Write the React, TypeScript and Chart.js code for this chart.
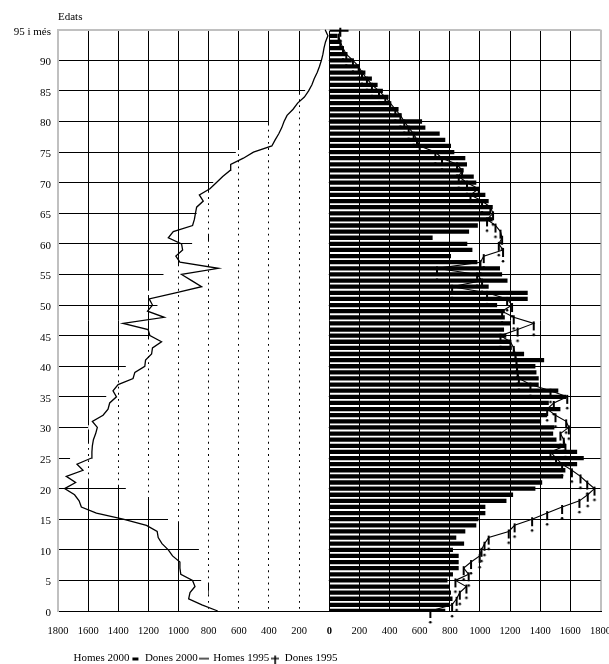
import { useEffect, useRef } from 'react';
import { Chart, registerables } from 'chart.js';

Chart.register(...registerables);

const FONT = "'Liberation Serif', 'Times New Roman', Times, serif";

// Age categories (0 .. 95 i més)
const ageLabels = [
  '0', '1', '2', '3', '4', '5', '6', '7', '8', '9',
  '10', '11', '12', '13', '14', '15', '16', '17', '18', '19',
  '20', '21', '22', '23', '24', '25', '26', '27', '28', '29',
  '30', '31', '32', '33', '34', '35', '36', '37', '38', '39',
  '40', '41', '42', '43', '44', '45', '46', '47', '48', '49',
  '50', '51', '52', '53', '54', '55', '56', '57', '58', '59',
  '60', '61', '62', '63', '64', '65', '66', '67', '68', '69',
  '70', '71', '72', '73', '74', '75', '76', '77', '78', '79',
  '80', '81', '82', '83', '84', '85', '86', '87', '88', '89',
  '90', '91', '92', '93', '94', '95 i més',
];

// Homes 2000 (white bars, left side)
const homes2000 = [
  810, 830, 820, 800, 790, 850, 870, 940, 925, 910,
  865, 990, 990, 995, 990, 1070, 1110, 1135, 1145, 1215,
  1350, 1540, 1640, 1655, 1685, 1720, 1685, 1730, 1590, 1585,
  1600, 1565, 1565, 1555, 1540, 1480, 1520, 1490, 1460, 1450,
  1350, 1390, 1380, 1290, 1280, 1190, 1185, 1165, 1160, 1100,
  1140, 1185, 1340, 1075, 1180, 1100, 1160, 990, 820, 890,
  910, 710, 950, 940, 905, 880, 960, 930, 840, 790,
  770, 760, 720, 700, 660, 620, 590, 545, 520, 455,
  400, 300, 280, 255, 225, 160, 170, 145, 120, 100,
  50, 55, 45, 30, 25, 60,
];

// Dones 2000 (black bars, right side)
const dones2000 = [
  770, 800, 818, 808, 800, 785, 821, 859, 859, 859,
  821, 895, 843, 903, 976, 990, 1036, 1036, 1176, 1220,
  1368, 1413, 1552, 1567, 1645, 1689, 1645, 1567, 1508, 1486,
  1494, 1406, 1446, 1534, 1457, 1572, 1520, 1390, 1390, 1375,
  1368, 1426, 1293, 1211, 1200, 1175, 1160, 1200, 1165, 1165,
  1114, 1317, 1317, 1058, 1183, 1147, 1133, 983, 808, 950,
  916, 686, 928, 986, 1084, 1070, 1085, 1058, 1036, 992,
  976, 959, 892, 914, 903, 830, 808, 770, 733, 638,
  616, 480, 460, 405, 394, 356, 321, 283, 240, 200,
  150, 120, 90, 80, 55, 128,
];

// Homes 1995 (line, left side)
const homes1995 = [
  740, 845, 933, 924, 891, 907, 985, 991, 991, 1040,
  1068, 1110, 1135, 1142, 1213, 1368, 1545, 1645, 1660, 1690,
  1756, 1683, 1745, 1634, 1674, 1578, 1575, 1572, 1565, 1550,
  1539, 1572, 1501, 1468, 1457, 1412, 1435, 1401, 1302, 1290,
  1224, 1219, 1179, 1173, 1113, 1190, 1202, 1368, 1095, 1206,
  1173, 1195, 1020, 847, 913, 980, 736, 991, 1018, 973,
  980, 1068, 1035, 907, 895, 888, 880, 836, 862, 792,
  750, 707, 658, 654, 570, 503, 381, 359, 335, 315,
  300, 280, 240, 210, 165, 137, 115, 100, 80, 65,
  52, 42, 35, 25, 9, 27,
];

// Dones 1995 (line with markers, right side)
const dones1995 = [
  671, 815, 845, 866, 910, 837, 925, 892, 941, 998,
  1010, 1030, 1058, 1191, 1230, 1346, 1446, 1545, 1660, 1715,
  1760, 1712, 1667, 1610, 1545, 1505, 1468, 1567, 1556, 1534,
  1590, 1572, 1501, 1446, 1490, 1579, 1468, 1335, 1258, 1250,
  1246, 1242, 1235, 1224, 1202, 1136, 1250, 1357, 1224, 1147,
  1213, 1180, 1047, 815, 1014, 981, 715, 1003, 1025, 1153,
  1125, 1147, 1136, 1103, 1047, 1087, 1069, 1014, 937, 992,
  914, 859, 881, 848, 748, 704, 600, 582, 560, 527,
  498, 472, 438, 405, 372, 330, 283, 250, 217, 195,
  157, 113, 91, 73, 62, 73,
];

const seriesNames = ['Homes 2000', 'Dones 2000', 'Homes 1995', 'Dones 1995'];

function makeCanvas(w: number, h: number, draw: (g: CanvasRenderingContext2D) => void) {
  const c = document.createElement('canvas');
  c.width = w;
  c.height = h;
  const g = c.getContext('2d');
  if (g) {
    g.fillStyle = '#000';
    g.strokeStyle = '#000';
    draw(g);
  }
  return c;
}

export default function App() {
  const ref = useRef<HTMLCanvasElement>(null);

  useEffect(() => {
    const canvas = ref.current;
    if (!canvas) return;

    // marker "!" hanging below the data point
    const marker = makeCanvas(6, 30, (g) => {
      g.fillRect(2, 13, 2, 9);
      g.beginPath();
      g.arc(3, 26.3, 1.3, 0, Math.PI * 2);
      g.fill();
    });
    const legBlank = makeCanvas(8, 8, () => {});
    const legRect = makeCanvas(8, 8, (g) => {
      g.fillRect(1, 3, 6, 3);
    });
    const legLine = makeCanvas(10, 4, (g) => {
      g.fillRect(0, 1.5, 10, 1.3);
    });
    const legCross = makeCanvas(8, 18, (g) => {
      g.fillRect(0, 8.4, 8, 1.3);
      g.fillRect(3.2, 6, 1.6, 10);
    });
    const legendStyles = [legBlank, legRect, legLine, legCross];

    const chart = new Chart(canvas, {
      type: 'bar',
      data: {
        labels: ageLabels,
        datasets: [
          {
            type: 'bar',
            label: seriesNames[0],
            data: homes2000.map((v) => -v),
            backgroundColor: '#ffffff',
            borderWidth: 0,
            grouped: false,
            barPercentage: 0.7,
            categoryPercentage: 1,
            order: 3,
          },
          {
            type: 'bar',
            label: seriesNames[1],
            data: dones2000,
            backgroundColor: '#000000',
            borderWidth: 0,
            grouped: false,
            barPercentage: 0.7,
            categoryPercentage: 1,
            order: 2,
          },
          {
            type: 'line',
            label: seriesNames[2],
            data: homes1995.map((v) => -v),
            borderColor: '#000000',
            borderWidth: 1.3,
            pointRadius: 0,
            fill: false,
            tension: 0,
            order: 1,
          },
          {
            type: 'line',
            label: seriesNames[3],
            data: dones1995,
            borderColor: '#000000',
            borderWidth: 1.1,
            pointStyle: marker,
            pointRadius: 3,
            fill: false,
            tension: 0,
            clip: false,
            order: 0,
          },
        ],
      } as any,
      options: {
        indexAxis: 'y',
        animation: false,
        responsive: false,
        events: [],
        layout: { padding: { left: 8, right: 16, top: 0, bottom: 0 } },
        scales: {
          x: {
            type: 'linear',
            min: -1800,
            max: 1800,
            afterFit: (s: any) => {
              s.height = 40;
            },
            ticks: {
              stepSize: 200,
              autoSkip: false,
              maxRotation: 0,
              padding: 14,
              color: '#000',
              callback: (v: any) => String(Math.abs(Number(v))),
              font: (ctx: any) => ({
                family: FONT,
                size: 10.5,
                weight: ctx.tick && ctx.tick.value === 0 ? 'bold' : 'normal',
              }),
            },
            grid: {
              drawTicks: false,
              color: (ctx: any) =>
                ctx.tick && Math.abs(ctx.tick.value) === 1800 ? '#c0c0c0' : '#000000',
              lineWidth: (ctx: any) =>
                ctx.tick && Math.abs(ctx.tick.value) === 1800 ? 2 : 1,
            },
            border: { color: '#000000', width: 1 },
          },
          y: {
            type: 'category',
            reverse: true,
            offset: false,
            afterFit: (s: any) => {
              s.width = 50;
            },
            ticks: {
              autoSkip: false,
              padding: 7,
              labelOffset: 2,
              color: '#000',
              font: { family: FONT, size: 11 },
              callback: (_v: any, i: number) => (i % 5 === 0 ? ageLabels[i] : ''),
            },
            grid: {
              offset: false,
              drawTicks: false,
              color: (ctx: any) =>
                ctx.index % 5 === 0
                  ? ctx.index === 95
                    ? '#c0c0c0'
                    : '#000000'
                  : 'rgba(0,0,0,0)',
              lineWidth: (ctx: any) => (ctx.index === 95 ? 2 : 1),
            },
            border: { color: '#c0c0c0', width: 2 },
          },
        },
        plugins: {
          tooltip: { enabled: false },
          title: {
            display: true,
            text: 'Edats',
            align: 'start',
            position: 'top',
            fullSize: false,
            color: '#000',
            font: { family: FONT, size: 11, weight: 'normal' },
            padding: { top: 11, bottom: 5.5 },
          },
          legend: {
            display: true,
            position: 'bottom',
            align: 'start',
            fullSize: false,
            labels: {
              usePointStyle: true,
              pointStyleWidth: 8,
              padding: 2,
              color: '#000',
              font: { family: FONT, size: 11 },
              generateLabels: () =>
                seriesNames.map((name, i) => ({
                  text: name,
                  fillStyle: '#000',
                  strokeStyle: '#000',
                  lineWidth: 0,
                  pointStyle: legendStyles[i],
                  hidden: false,
                  datasetIndex: i,
                  fontColor: '#000',
                })) as any,
            },
          },
        },
      } as any,
    });

    return () => chart.destroy();
  }, []);

  return (
    <div
      style={{
        position: 'absolute',
        left: 0,
        top: 0,
        width: 609,
        height: 664,
        overflow: 'hidden',
        background: '#ffffff',
      }}
    >
      <canvas ref={ref} width={625} height={674} style={{ display: 'block' }} />
    </div>
  );
}
